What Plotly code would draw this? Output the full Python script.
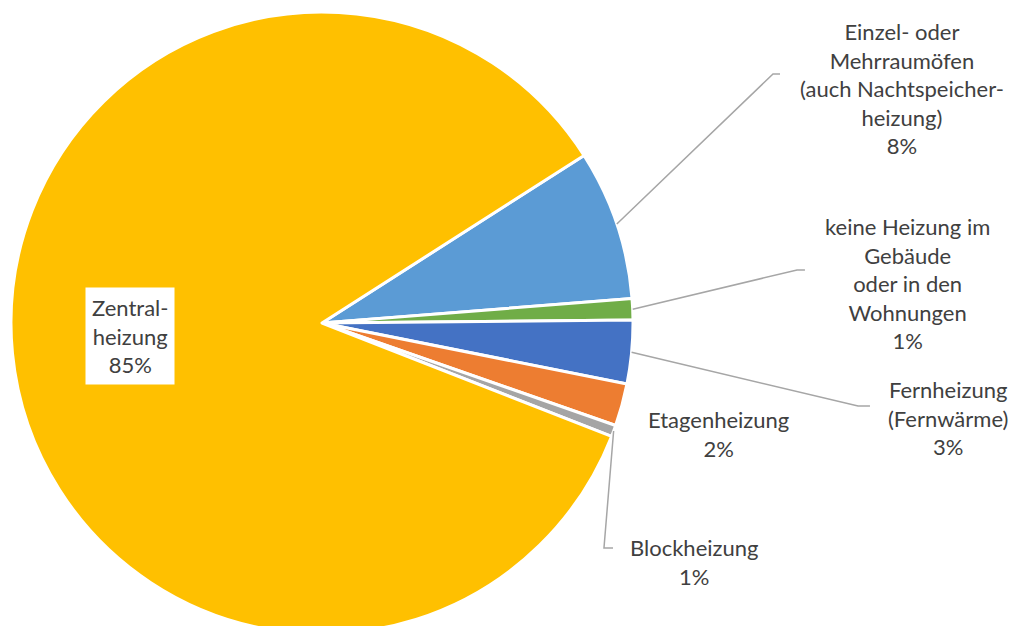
import math
import plotly.graph_objects as go

# data (percent of buildings)
labels = ["Einzel- oder<br>Mehrraumöfen<br>(auch Nachtspeicher-<br>heizung)",
          "keine Heizung im<br>Gebäude<br>oder in den<br>Wohnungen",
          "Fernheizung<br>(Fernwärme)",
          "Etagenheizung",
          "Blockheizung",
          "Zentral-<br>heizung"]
values = [7.8, 1.1, 3.3, 2.2, 0.6, 85.0]
pct_text = ["8%", "1%", "3%", "2%", "1%", "85%"]
colors = ["#5B9BD5", "#70AD47", "#4472C4", "#ED7D31", "#A5A5A5", "#FFC000"]

W, H = 1027, 626
OFF = 8  # default body margin of the html page
# pie geometry in page pixels
cx, cy, R = 322, 323, 311
rotation = 57.4
txt_col = "#404040"
line_col = "#A6A6A6"
font_fam = "Lato, 'Open Sans', sans-serif"


def px2paper(x, y):
    # page pixel -> paper coords of the figure
    return (x - OFF) / W, 1 - (y - OFF) / H


fig = go.Figure()
fx, fy = cx - OFF, cy - OFF
fig.add_trace(go.Pie(
    labels=labels,
    values=values,
    sort=False,
    direction="clockwise",
    rotation=rotation,
    textinfo="none",
    hoverinfo="label+percent",
    marker=dict(colors=colors, line=dict(color="white", width=3)),
    domain=dict(x=[(fx - R) / W, (fx + R) / W], y=[1 - (fy + R) / H, 1 - (fy - R) / H]),
    showlegend=False,
))

# anchor point on the rim at the middle of each slice
total = sum(values)
anchors = []
cum = 0
for v in values:
    mid = math.radians(rotation + (cum + v / 2) / total * 360)
    anchors.append((cx + R * math.sin(mid), cy - R * math.cos(mid)))
    cum += v

# label positions (page pixel centres) and leader elbows
label_pos = [(902, 88), (907, 284), (948, 418), (718, 434), (694, 562), (130, 336)]
elbows = {0: [(773, 74), (780, 74)],
          1: [(797, 270), (805, 270)],
          2: [(858, 406), (870, 406)],
          4: [(604, 548), (613, 548)]}

for i, pts in elbows.items():
    path_pts = [anchors[i]] + pts
    p = []
    for k, (x, y) in enumerate(path_pts):
        xx, yy = px2paper(x, y)
        p.append(("M" if k == 0 else "L") + " {:.4f} {:.4f}".format(xx, yy))
    fig.add_shape(type="path", path=" ".join(p), xref="paper", yref="paper",
                  line=dict(color=line_col, width=1.5))

for i, (x, y) in enumerate(label_pos):
    xx, yy = px2paper(x, y)
    is_in = i == 5
    fig.add_annotation(
        x=xx, y=yy, xref="paper", yref="paper",
        text=labels[i] + "<br>" + pct_text[i],
        showarrow=False, align="center",
        xanchor="center", yanchor="middle",
        font=dict(size=22, color=txt_col, family=font_fam),
        bgcolor="white" if is_in else None,
        borderpad=6 if is_in else 0,
    )

fig.update_layout(
    width=W, height=H,
    margin=dict(l=0, r=0, t=0, b=0),
    paper_bgcolor="white",
    plot_bgcolor="white",
    font=dict(family=font_fam, color=txt_col),
)

fig.write_html("out.html")
